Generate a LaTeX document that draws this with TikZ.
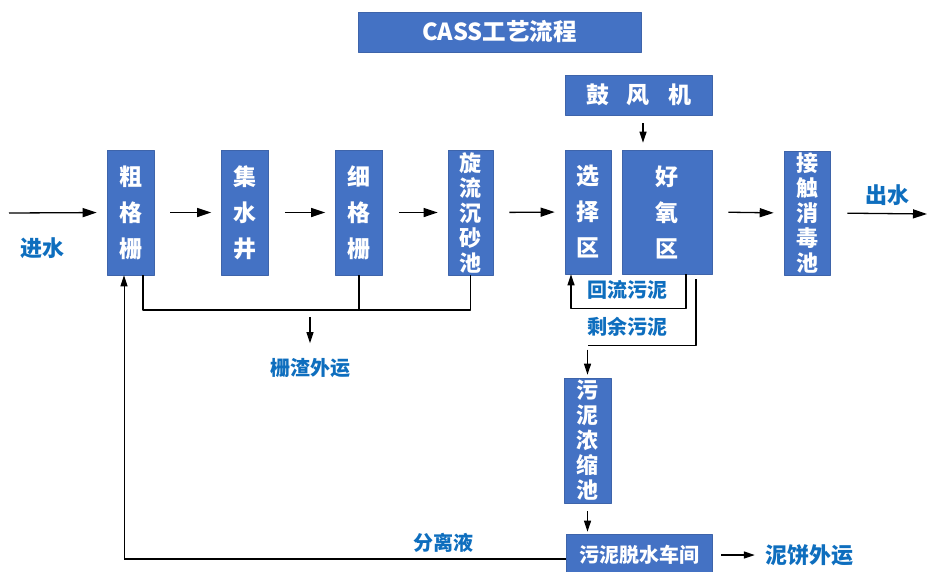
\documentclass[tikz,border=0pt]{standalone}
\usepackage{fontspec}
\setmainfont{Noto Sans CJK SC}
\usetikzlibrary{arrows.meta,calc}
\definecolor{boxblue}{RGB}{68,114,196}
\definecolor{boxedge}{RGB}{62,100,170}
\definecolor{txtblue}{RGB}{14,110,190}
\tikzset{
	unit/.style={draw=boxedge, line width=0.6pt, fill=boxblue, text=white, align=center, inner sep=0pt,
		font=\bfseries\fontsize{23}{36}\selectfont, minimum width=#1, minimum height=125pt},
	unit/.default=46pt,
	tall/.style={unit=#1, font=\bfseries\fontsize{22}{25}\selectfont},
	tall/.default=46pt,
	bar/.style={unit=#1, minimum height=40pt, font=\bfseries\fontsize{23.5}{24}\selectfont},
	lab/.style={text=txtblue, inner sep=0pt, font=\bfseries\fontsize{20}{24}\selectfont},
	biglab/.style={lab, font=\bfseries\fontsize{22}{24}\selectfont},
	pipe/.style={line width=1.3pt},
	flow/.style={pipe, -{Triangle[length=14pt,width=9pt]}, shorten <=16pt, shorten >=10pt},
	sflow/.style={pipe, -{Triangle[length=11pt,width=7pt]}}
}
\begin{document}
\begin{tikzpicture}[x=1pt, y=-1pt, line join=round]
				\useasboundingbox (0,0) rectangle (928,571);
				\node[bar=283pt] (title) at (499.5,32) {CASS工艺流程};
				% pretreatment line
				\foreach \n/\x/\t in {cu/130.5/{粗\\格\\栅}, ji/245/{集\\水\\井}, xi/359/{细\\格\\栅}}
					\node[unit=47pt] (\n) at (\x,212.5) {\t};
				\node[tall=45pt] (xuan) at (470.5,212.5) {旋\\流\\沉\\砂\\池};
				% CASS tank and blower
				\node[bar=147pt, font=\bfseries\fontsize{23}{24}\selectfont] (gu) at (638.5,95) {鼓\hspace{18pt}风\hspace{18pt}机};
				\node[unit=46pt, minimum height=124pt] (xz) at (588,212) {选\\择\\区};
				\node[unit=90pt, minimum height=124pt] (hy) at (667,212) {好\\氧\\区};
				\node[tall=46pt, minimum height=124pt] (js) at (807,213) {接\\触\\消\\毒\\池};
				% sludge line
				\node[tall=47pt] (nn) at (587.5,440.5) {污\\泥\\浓\\缩\\池};
				\node[bar=146pt, minimum height=42pt, font=\bfseries\fontsize{20}{24}\selectfont] (ts) at (639,555) {污泥脱水车间};
				% labels
				\node[biglab] (jin) at (42,248) {进水};
				\node[biglab] (chu) at (887,195) {出水};
				\node[lab] (zhawai) at (310,368) {栅渣外运};
				\node[lab] (hl) at (627,290) {回流污泥};
				\node[lab] (sy) at (627,327) {剩余污泥};
				\node[lab] (fl) at (443,543) {分离液};
				\node[biglab] (nb) at (809,555) {泥饼外运};
				% main flow
				\coordinate (in) at (9,213);
				\coordinate (out) at (927,214);
				\draw[flow, shorten <=0pt] (in) -- (cu.west);
				\foreach \a/\b in {cu/ji, ji/xi, xi/xuan, xuan/xz, hy/js}
					\draw[flow] (\a.east) -- (\b.west);
				\draw[flow, shorten >=0pt, shorten <=17pt] (js.east) -- (out);
				\draw[sflow, shorten <=8pt, shorten >=7pt] ([xshift=4.5pt]gu.south) -- ([xshift=4.5pt]gu.south |- hy.north);
				% screenings
				\coordinate (zl) at (143,310);
				\draw[pipe] ([xshift=12.5pt]cu.south) -- (zl) -| (xuan.south);
				\draw[pipe] (xi.south) -- (xi.south |- zl);
				\draw[sflow] ([yshift=-7pt]zl -| zhawai) -- ([yshift=15pt]zhawai.north);
				% return and waste sludge
				\draw[sflow] ([xshift=19pt]hy.south) |- ([xshift=-17pt,yshift=-34pt]xz.south) -- ([xshift=-17pt]xz.south);
				\coordinate (sw) at ([yshift=32pt]nn.north);
				\draw[pipe] ([xshift=29pt,yshift=-5pt]hy.south) |- (sw);
				\draw[sflow, shorten >=3pt] ([yshift=-4pt]sw) -- (nn.north);
				\draw[sflow, shorten <=8pt, shorten >=2pt] (nn.south) -- (nn.south |- ts.north);
				\draw[sflow, shorten <=9pt, shorten >=10pt] (ts.east) -- (nb.west);
				% separated liquor back to the coarse screen
				\coordinate (back) at ([xshift=-6.5pt]cu.south |- ts.west);
				\draw[line width=2pt] ([yshift=-4pt]ts.west) -- ([yshift=-4pt]back);
				\draw[sflow, line width=1pt] ([yshift=-4pt]back) -- ([xshift=-6.5pt]cu.south);
\end{tikzpicture}
\end{document}
